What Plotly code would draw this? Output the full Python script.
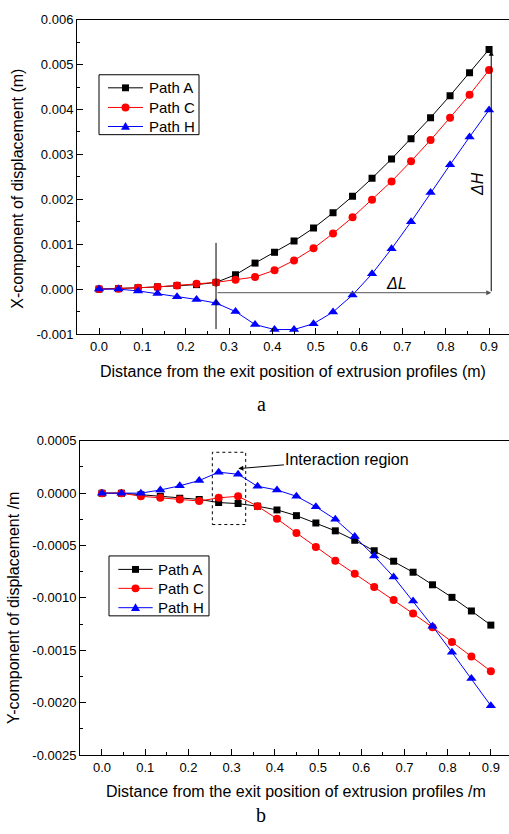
import plotly.graph_objects as go

# ---------------- data ----------------
distance = [0.0, 0.045, 0.09, 0.135, 0.18, 0.225, 0.27, 0.315, 0.36, 0.405, 0.45,
            0.495, 0.54, 0.585, 0.63, 0.675, 0.72, 0.765, 0.81, 0.855, 0.9]

# (a) X-component of displacement (m)
x_path_a = [0.0, 0.00001, 0.00003, 0.00005, 0.00008, 0.0001, 0.00015, 0.00032, 0.00058,
            0.00082, 0.00107, 0.00136, 0.0017, 0.00207, 0.00247, 0.0029, 0.00335,
            0.00382, 0.00431, 0.00482, 0.00534]
x_path_c = [0.0, 0.00001, 0.00003, 0.00005, 0.00008, 0.00012, 0.00015, 0.00021, 0.00027,
            0.00042, 0.00064, 0.00091, 0.00124, 0.0016, 0.00199, 0.0024, 0.00285,
            0.00332, 0.00382, 0.00433, 0.00488]
x_path_h = [0.0, 0.0, -0.00004, -0.0001, -0.00017, -0.00023, -0.00031, -0.0005, -0.00079,
            -0.0009, -0.0009, -0.00077, -0.00051, -0.00013, 0.00034, 0.0009, 0.0015,
            0.00215, 0.00277, 0.00339, 0.00399]

# (b) Y-component of displacement (m)
y_path_a = [0.0, 0.0, -0.000015, -0.00003, -0.00005, -0.00006, -0.00009, -0.0001, -0.000125,
            -0.00016, -0.000215, -0.000285, -0.00036, -0.00045, -0.00055, -0.00065,
            -0.000755, -0.000875, -0.000995, -0.001125, -0.00126]
y_path_c = [0.0, 0.0, -0.00003, -0.000045, -0.00006, -0.000075, -0.000045, -0.00003,
            -0.000125, -0.000245, -0.00038, -0.000515, -0.000645, -0.00077, -0.000895,
            -0.00102, -0.00115, -0.00128, -0.00142, -0.00156, -0.0017]
y_path_h = [0.0, 0.0, 0.0, 0.00003, 0.00007, 0.00012, 0.0002, 0.00018, 0.000065, 0.00003,
            -0.00003, -0.00013, -0.00025, -0.000415, -0.0006, -0.0008, -0.00103, -0.00127,
            -0.00152, -0.00177, -0.00203]

series_names = ["Path A", "Path C", "Path H"]

x_tick_vals = [0.0, 0.1, 0.2, 0.3, 0.4, 0.5, 0.6, 0.7, 0.8, 0.9]
x_tick_text = ["0.0", "0.1", "0.2", "0.3", "0.4", "0.5", "0.6", "0.7", "0.8", "0.9"]
ya_tick_vals = [-0.001, 0.0, 0.001, 0.002, 0.003, 0.004, 0.005, 0.006]
ya_tick_text = ["-0.001", "0.000", "0.001", "0.002", "0.003", "0.004", "0.005", "0.006"]
yb_tick_vals = [-0.0025, -0.002, -0.0015, -0.001, -0.0005, 0.0, 0.0005]
yb_tick_text = ["-0.0025", "-0.0020", "-0.0015", "-0.0010", "-0.0005", "0.0000", "0.0005"]

# ---------------- styling ----------------
FONT = "Liberation Sans, Arial, sans-serif"
SERIF = "Liberation Serif, Times New Roman, serif"
colors = ["#000000", "#ff0000", "#0000ff"]
symbols = ["square", "circle", "triangle-up"]
msizes = [7, 8, 9]

W, H = 509, 834

fig = go.Figure()

for vals, name, c, s, ms in zip([x_path_a, x_path_c, x_path_h], series_names, colors, symbols, msizes):
    fig.add_trace(go.Scatter(x=distance, y=vals, name=name, mode="lines+markers",
                             line=dict(color=c, width=1), marker=dict(symbol=s, size=ms, color=c),
                             xaxis="x", yaxis="y", showlegend=False))
for vals, name, c, s, ms in zip([y_path_a, y_path_c, y_path_h], series_names, colors, symbols, msizes):
    fig.add_trace(go.Scatter(x=distance, y=vals, name=name, mode="lines+markers",
                             line=dict(color=c, width=1), marker=dict(symbol=s, size=ms, color=c),
                             xaxis="x2", yaxis="y2", showlegend=False))

axis_common = dict(showgrid=False, zeroline=False, showline=True, linecolor="black", linewidth=1,
                   ticks="inside", ticklen=6, tickwidth=1, tickcolor="black",
                   tickfont=dict(family=FONT, size=13, color="black"))

fig.update_layout(
    width=W, height=H, margin=dict(l=0, r=0, t=0, b=0),
    paper_bgcolor="white", plot_bgcolor="white", showlegend=False,
    xaxis=dict(domain=[77 / W, 1], range=[-0.0508, 0.946], anchor="y", mirror=True,
               tickmode="array", tickvals=x_tick_vals, ticktext=x_tick_text,
               minor=dict(ticks="inside", ticklen=3, dtick=0.05, tick0=0, tickcolor="black"),
               **axis_common),
    yaxis=dict(domain=[1 - 333 / H, 1 - 13 / H], range=[-0.001, 0.006], anchor="x",
               tickmode="array", tickvals=ya_tick_vals, ticktext=ya_tick_text,
               minor=dict(ticks="inside", ticklen=3, dtick=0.0005, tick0=0, tickcolor="black"),
               **axis_common),
    xaxis2=dict(domain=[80 / W, 1], range=[-0.0509, 0.942], anchor="y2", mirror=True,
                tickmode="array", tickvals=x_tick_vals, ticktext=x_tick_text,
                minor=dict(ticks="inside", ticklen=3, dtick=0.05, tick0=0, tickcolor="black"),
                **axis_common),
    yaxis2=dict(domain=[1 - 761.7 / H, 1 - 441.7 / H], range=[-0.0025, 0.0005], anchor="x2",
                tickmode="array", tickvals=yb_tick_vals, ticktext=yb_tick_text,
                minor=dict(ticks="inside", ticklen=3, dtick=0.00025, tick0=0, tickcolor="black"),
                **axis_common),
)

ann = []
shapes = []


def px(x):
    return x / W


def py(y):
    return 1 - y / H


def ptext(text, x, y, size=16, family=FONT, angle=0, xanchor="center"):
    return dict(text=text, xref="paper", yref="paper", x=px(x), y=py(y),
                xanchor=xanchor, yanchor="middle", showarrow=False, textangle=angle,
                font=dict(family=family, size=size, color="black"))


def legend_box(bx0, by0, bx1, by1, rows, lx0, lx1, tx):
    """Legend frame drawn in pixel units of the figure."""
    shapes.append(dict(type="rect", xref="paper", yref="paper", x0=px(bx0), x1=px(bx1),
                       y0=py(by1), y1=py(by0), fillcolor="white",
                       line=dict(color="black", width=1), layer="above"))
    mx = (lx0 + lx1) / 2
    for name, c, s, ms, ry in zip(series_names, colors, symbols, msizes, rows):
        shapes.append(dict(type="line", xref="paper", yref="paper", x0=px(lx0), x1=px(lx1),
                           y0=py(ry), y1=py(ry), line=dict(color=c, width=1), layer="above"))
        h = ms / 2
        if s == "square":
            shapes.append(dict(type="rect", xref="paper", yref="paper", x0=px(mx - h), x1=px(mx + h),
                               y0=py(ry + h), y1=py(ry - h), fillcolor=c, line=dict(width=0),
                               layer="above"))
        elif s == "circle":
            shapes.append(dict(type="circle", xref="paper", yref="paper", x0=px(mx - h), x1=px(mx + h),
                               y0=py(ry + h), y1=py(ry - h), fillcolor=c, line=dict(width=0),
                               layer="above"))
        else:
            path = "M {a},{b} L {c},{d} L {e},{f} Z".format(
                a=px(mx - h), b=py(ry + h * 0.75), c=px(mx + h), d=py(ry + h * 0.75),
                e=px(mx), f=py(ry - h))
            shapes.append(dict(type="path", xref="paper", yref="paper", path=path, fillcolor=c,
                               line=dict(width=0), layer="above"))
        ann.append(ptext(name, tx, ry, size=15, xanchor="left"))


legend_box(99, 69, 199, 130, [82.3, 102.3, 121.7], 108, 143, 146.5)
legend_box(109, 559, 209, 620, [572.7, 592.0, 611.7], 118.3, 152.7, 155.8)

# axis titles
ann.append(ptext("Distance from the exit position of extrusion profiles (m)", 293, 371))
ann.append(ptext("X-component of displacement (m)", 18, 185, angle=-90))
ann.append(ptext("Distance from the exit position of extrusion profiles /m", 296, 799))
ann.append(ptext("Y-component of displacement /m", 14, 612, angle=-90))
# panel labels
ann.append(ptext("a", 261, 404, size=20, family=SERIF))
ann.append(ptext("b", 261, 823, size=20, family=SERIF))
# panel a arrows
ann.append(dict(text="", x=0.905, y=-0.00008, ax=0.27, ay=-0.00008, xref="x", yref="y",
                axref="x", ayref="y", showarrow=True, arrowhead=2, arrowsize=1, arrowwidth=1,
                arrowcolor="#555555", standoff=0, startstandoff=0))
ann.append(dict(text="", x=0.905, y=0.00531, ax=0.905, ay=-0.00008, xref="x", yref="y",
                axref="x", ayref="y", showarrow=True, arrowhead=2, arrowsize=1, arrowwidth=1,
                arrowcolor="black", standoff=0, startstandoff=0))
ann.append(dict(text="<i>ΔL</i>", x=0.687, y=0.000122, xref="x", yref="y", showarrow=False,
                xanchor="center", yanchor="middle", font=dict(family=FONT, size=16, color="black")))
ann.append(dict(text="<i>ΔH</i>", x=0.873, y=0.00235, xref="x", yref="y", showarrow=False,
                xanchor="center", yanchor="middle", textangle=-90,
                font=dict(family=FONT, size=16, color="black")))
# panel b interaction region
ann.append(dict(text="Interaction region", x=0.3156, y=0.000234, ax=0.568, ay=0.00032,
                xref="x2", yref="y2", axref="x2", ayref="y2", showarrow=True,
                arrowhead=2, arrowsize=1, arrowwidth=1, arrowcolor="black", standoff=0,
                font=dict(family=FONT, size=16, color="black")))

shapes.append(dict(type="line", x0=0.27, x1=0.27, y0=-0.00089, y1=0.00103, xref="x", yref="y",
                   line=dict(color="black", width=1)))
shapes.append(dict(type="rect", x0=0.2554, x1=0.3326, y0=-0.0003, y1=0.00039, xref="x2", yref="y2",
                   line=dict(color="black", width=1, dash="dot")))

fig.update_layout(annotations=ann, shapes=shapes)

fig.write_html("out.html", config={"displayModeBar": False},
               post_script="document.body.style.margin='0';document.body.style.overflow='hidden';")
